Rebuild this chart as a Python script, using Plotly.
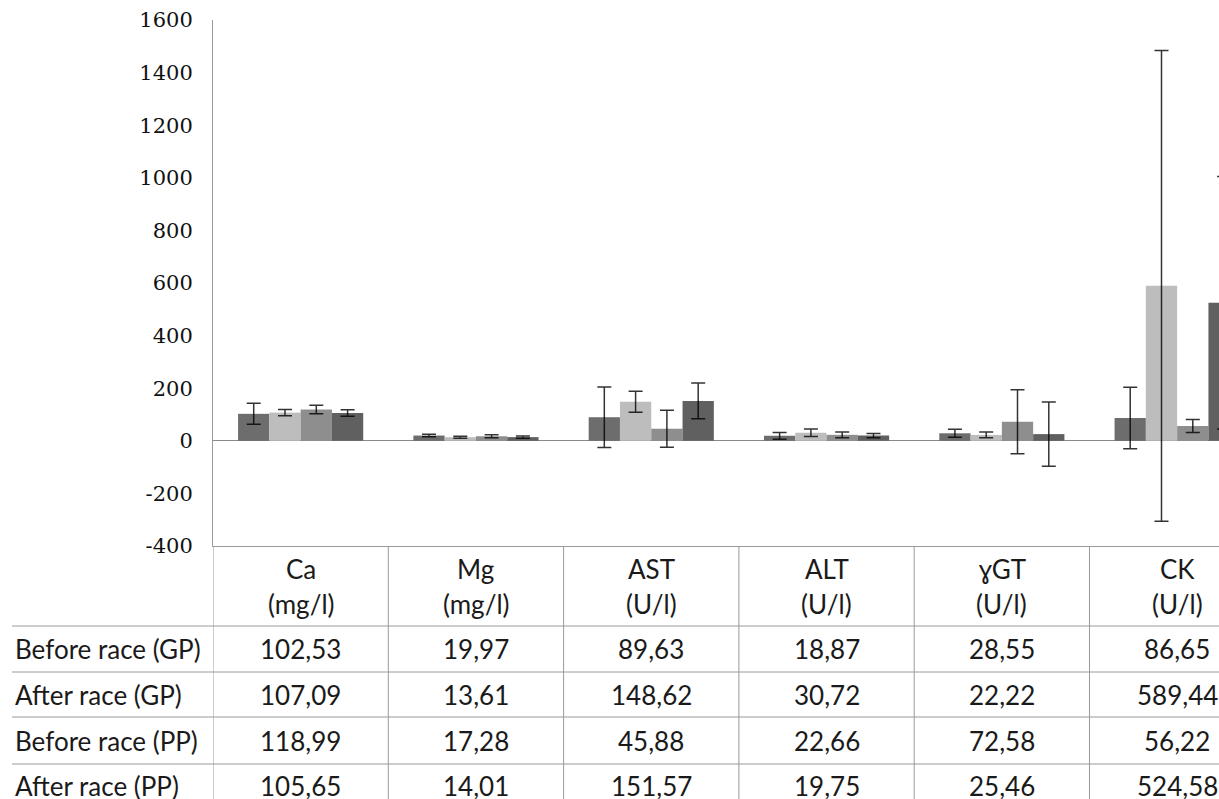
import plotly.graph_objects as go

# Blood parameters (column headers of the data table)
categories = ["Ca", "Mg", "AST", "ALT", "ɣGT", "CK"]
units = ["(mg/l)", "(mg/l)", "(U/l)", "(U/l)", "(U/l)", "(U/l)"]

series_names = ["Before race (GP)", "After race (GP)", "Before race (PP)", "After race (PP)"]

# Mean values per group
before_gp = [102.53, 19.97, 89.63, 18.87, 28.55, 86.65]
after_gp = [107.09, 13.61, 148.62, 30.72, 22.22, 589.44]
before_pp = [118.99, 17.28, 45.88, 22.66, 72.58, 56.22]
after_pp = [105.65, 14.01, 151.57, 19.75, 25.46, 524.58]

# Standard deviations (error bars)
sd_before_gp = [40, 5, 115, 13, 15, 117]
sd_after_gp = [12, 4, 40, 14, 11, 895]
sd_before_pp = [16, 6, 70, 11, 122, 25]
sd_after_pp = [12, 4, 68, 8, 122, 480]

y_ticks = [-400, -200, 0, 200, 400, 600, 800, 1000, 1200, 1400, 1600]
y_tick_labels = [str(v) for v in y_ticks]

series_values = [before_gp, after_gp, before_pp, after_pp]
series_sd = [sd_before_gp, sd_after_gp, sd_before_pp, sd_after_pp]
series_colors = ["#6d6d6d", "#bdbdbd", "#8e8e8e", "#606060"]

# Page / plot geometry (pixels)
W, H = 1219, 799
PLOT_L, PLOT_T, PLOT_B = 213, 20, 546
PLOT_H = PLOT_B - PLOT_T
COL_W = 175.3  # width of one category column


def py(y_px):
    """Convert a pixel row into paper y coordinates."""
    return (PLOT_B - y_px) / PLOT_H


def px(x_px):
    """Convert a pixel column into paper x coordinates."""
    return (x_px - PLOT_L) / (W - PLOT_L)


x_pos = list(range(len(categories)))
x_max = -0.5 + (W - PLOT_L) / COL_W

fig = go.Figure()
for name, vals, sd, col in zip(series_names, series_values, series_sd, series_colors):
    fig.add_trace(go.Bar(
        x=x_pos, y=vals, name=name,
        marker=dict(color=col, line=dict(width=0)),
        error_y=dict(type="data", array=sd, visible=True,
                     color="rgba(0,0,0,0.8)", thickness=1.5, width=7),
    ))

line_col = "#9a9a9a"
table_font = dict(family="Lato, Noto Sans, sans-serif", size=26, color="#1a1a1a")

shapes = []
annotations = []

# Table: horizontal row separators
row_lines = [626, 672, 717, 764]
for yl in row_lines:
    shapes.append(dict(type="line", xref="paper", yref="paper",
                       x0=px(12), x1=1, y0=py(yl), y1=py(yl),
                       line=dict(color=line_col, width=1)))

# Table: vertical column separators
for b in [i - 0.5 for i in range(len(categories))]:
    shapes.append(dict(type="line", xref="x", yref="paper",
                       x0=b, x1=b, y0=0, y1=py(820),
                       line=dict(color=line_col, width=1)))

# Header cells
for i, (c, u) in enumerate(zip(categories, units)):
    annotations.append(dict(x=i, y=py(569), xref="x", yref="paper", text=c,
                            showarrow=False, xanchor="center", yanchor="middle",
                            font=table_font))
    annotations.append(dict(x=i, y=py(604), xref="x", yref="paper", text=u,
                            showarrow=False, xanchor="center", yanchor="middle",
                            font=table_font))

# Data rows
row_centers = [649, 694.5, 740.5, 786]
for name, vals, yc in zip(series_names, series_values, row_centers):
    annotations.append(dict(x=px(13), y=py(yc), xref="paper", yref="paper", text=name,
                            showarrow=False, xanchor="left", yanchor="middle",
                            font=table_font))
    for i, v in enumerate(vals):
        annotations.append(dict(x=i, y=py(yc), xref="x", yref="paper",
                                text=f"{v:.2f}".replace(".", ","),
                                showarrow=False, xanchor="center", yanchor="middle",
                                font=table_font))

fig.update_layout(
    width=W, height=H,
    margin=dict(l=PLOT_L, r=0, t=PLOT_T, b=H - PLOT_B, pad=0),
    paper_bgcolor="white", plot_bgcolor="white",
    barmode="group", bargap=0.286, bargroupgap=0,
    showlegend=False,
    xaxis=dict(range=[-0.5, x_max], showticklabels=False, ticks="",
               showgrid=False, zeroline=False,
               showline=True, linecolor=line_col, linewidth=1),
    yaxis=dict(range=[-400, 1600], tickvals=y_ticks, ticktext=y_tick_labels,
               showgrid=False, zeroline=True, zerolinecolor="#8a8a8a", zerolinewidth=1,
               showline=True, linecolor=line_col, linewidth=1,
               ticks="", ticklabelstandoff=15,
               tickfont=dict(family="DejaVu Serif, serif", size=21, color="#111111")),
    shapes=shapes,
    annotations=annotations,
)

fig.write_html("out.html")
